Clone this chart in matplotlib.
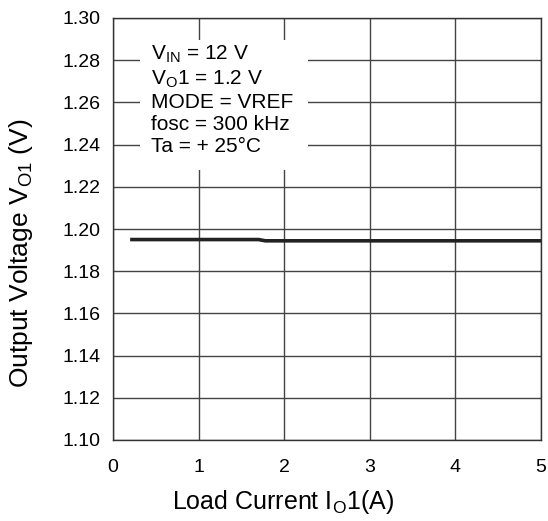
import numpy as np
import matplotlib.pyplot as plt
from matplotlib.patches import Rectangle

plt.rcParams['font.family'] = ['Liberation Sans', 'DejaVu Sans']
plt.rcParams['mathtext.fontset'] = 'custom'
plt.rcParams['mathtext.rm'] = 'Liberation Sans'

# load current (A) vs output voltage (V)
io1 = [0.2, 1.0, 1.7, 1.78, 2.0, 3.0, 4.0, 5.0]
vo1 = [1.1950, 1.1950, 1.1950, 1.1944, 1.1944, 1.1944, 1.1944, 1.1944]

x_ticks = [0, 1, 2, 3, 4, 5]
y_ticks = [1.10, 1.12, 1.14, 1.16, 1.18, 1.20, 1.22, 1.24, 1.26, 1.28, 1.30]

conditions = [r'V$_{\mathregular{IN}}$ = 12 V',
              r'V$_{\mathregular{O}}$1 = 1.2 V',
              'MODE = VREF',
              'fosc = 300 kHz',
              'Ta = + 25°C']

fig = plt.figure(figsize=(5.48, 5.21), dpi=100)
ax = fig.add_axes([113/548, 1 - 440/521, 428/548, 422/521])

ax.plot(io1, vo1, color='#222222', lw=2.6, solid_capstyle='butt', zorder=3)

ax.set_xlim(0, 5)
ax.set_ylim(1.10, 1.30)
ax.set_xticks(x_ticks)
ax.set_yticks(y_ticks)
ax.set_yticklabels(['%.2f' % v for v in y_ticks])
ax.grid(True, color='#444444', lw=1.0)
ax.tick_params(length=0, labelsize=14, pad=9)
ax.tick_params(axis='x', pad=14)
for s in ax.spines.values():
    s.set_color('#333333')
    s.set_linewidth(1.0)

ax.set_xlabel(r'Load Current I$_{\mathregular{O}}$1(A)', fontsize=18)
ax.set_ylabel(r'Output Voltage V$_{\mathregular{O1}}$ (V)', fontsize=19)
ax.xaxis.set_label_coords(0.397, -0.113)
ax.yaxis.set_label_coords(-0.183, 0.443)

# white box behind the conditions text
ax.add_patch(Rectangle((0.315, 1.228), 1.963, 0.0616, facecolor='white',
                       edgecolor='none', zorder=2.5))
ax.text(0.44, 1.2880, '\n'.join(conditions), fontsize=15, va='top', ha='left',
        linespacing=1.2, zorder=4)

fig.savefig('out.png', dpi=100)
